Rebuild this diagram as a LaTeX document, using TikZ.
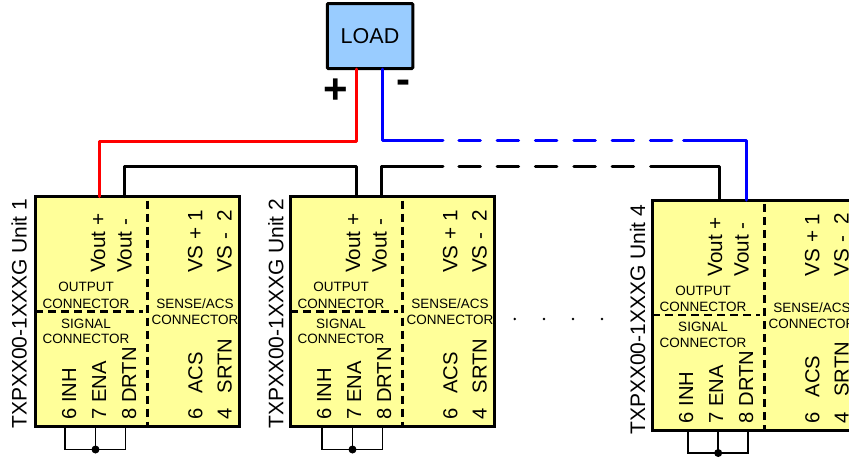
\documentclass[tikz,border=0pt]{standalone}
\usepackage{fontspec}
\setmainfont{Liberation Sans}
\definecolor{boxyellow}{HTML}{FFFF99}
\definecolor{loadblue}{HTML}{99CCFF}
\definecolor{wireblue}{HTML}{0000FF}
\definecolor{wirered}{HTML}{FF0000}
\tikzset{
  unitbox/.style={draw=black,line width=3pt,fill=boxyellow,minimum width=204.5pt,minimum height=230pt,anchor=north west,inner sep=0pt,outer sep=0pt},
  loadbox/.style={draw=black,line width=3pt,fill=loadblue,rounded corners=1pt,minimum width=85.5pt,minimum height=65pt,inner sep=0pt,font=\fontsize{21.5}{21.5}\selectfont},
  vlabel/.style={rotate=90,inner sep=0pt,anchor=base west},
  pinbase/.style={vlabel,font=\fontsize{20.7}{20.7}\selectfont},
  pinlow/.style={vlabel,font=\fontsize{20.2}{20.2}\selectfont},
  titlelabel/.style={rotate=90,inner sep=0pt,anchor=base west,font=\fontsize{21}{21}\selectfont},
  smalllabel/.style={inner sep=0pt,font=\fontsize{13.5}{13.5}\selectfont},
  wire/.style={line width=3pt,line join=round,line cap=round},
  wiredash/.style={wire,dash pattern=on 21.5pt off 16.83pt},
  inner dash/.style={line width=2.6pt,dash pattern=on 8pt off 5pt},
  jumper/.style={line width=1.6pt,line join=miter},
  sym/.style={inner sep=0pt,font=\fontsize{42}{42}\selectfont\bfseries}
}
% #1 name, #2 x, #3 y, #4 title baseline offset, #5 title start offset, #6 number,
% #7 plus terminal offset, #8 minus terminal offset, #9 first jumper offset
\newcommand{\powerunit}[9]{%
  \begin{scope}[shift={(#2,#3)}]
    \node[unitbox] (#1) at (0,0) {};
    \coordinate (#1p) at (#7,0);
    \coordinate (#1m) at (#8,0);
    \coordinate (#1a) at (#9,230);
    \coordinate (#1b) at ([xshift=30.5pt]#1a);
    \coordinate (#1c) at ([xshift=60.5pt]#1a);
    \coordinate (#1d) at ([yshift=-23pt]#1b);
    \node[titlelabel] (#1title) at (#4,#5) {TXPXX00-1XXXG Unit #6};
    \node[pinbase] (#1vp) at (70,76.5) {Vout +};
    \node[pinbase] (#1vm) at (96.5,76.5) {Vout -};
    \node[pinbase] (#1vs1) at (167.3,76.5) {VS + 1};
    \node[pinbase] (#1vs2) at (196.7,76.5) {VS -\ \ 2};
    \node[pinlow] (#1inh) at (41,223.5) {6 INH};
    \node[pinlow] (#1ena) at (71,223.5) {7 ENA};
    \node[pinlow] (#1drtn) at (101,223.5) {8 DRTN};
    \node[pinlow] (#1acs) at (167.3,223.5) {6\hspace{15pt}ACS};
    \node[pinlow] (#1srtn) at (196.7,223.5) {4\hspace{15.5pt}SRTN};
    \node[smalllabel] (#1o1) at (51,90.5) {OUTPUT};
    \node[smalllabel] (#1o2) at (51,107) {CONNECTOR};
    \node[smalllabel] (#1s1) at (51,127) {SIGNAL};
    \node[smalllabel] (#1s2) at (51,142.5) {CONNECTOR};
    \node[smalllabel] (#1a1) at (160,107.5) {SENSE/ACS};
    \node[smalllabel] (#1a2) at (160,123.5) {CONNECTOR};
    \draw[inner dash] (112.7,4) -- (112.7,230);
    \draw[inner dash] (0,115) -- (108,115);
  \end{scope}
  \draw[jumper] (#1a) -- (#1a|-#1d) -- (#1c|-#1d) -- (#1c);
  \draw[jumper] (#1b) -- (#1d);
  \fill (#1d) circle (4pt);
}
\begin{document}
\begin{tikzpicture}[x=1pt,y=-1pt]
  \useasboundingbox (0,0) rectangle (849,459);
  \clip (0,0) rectangle (849,459);
  \fill[white] (0,0) rectangle (849,459);

  \node[loadbox] (load) at (370,36) {LOAD};
  \coordinate (lp) at (356,69);
  \coordinate (lm) at (382,69);
  \coordinate (ry) at (0,141);
  \coordinate (by) at (0,140);
  \coordinate (ky) at (0,166);

  \node[sym] (plus) at (336,91) {+};
  \node[sym] (minus) at (403,87) {-};

  \powerunit{ua}{35}{196.5}{-8.3}{232.5}{1}{64}{89}{30}
  \powerunit{ub}{290}{196.5}{-6.7}{232.5}{2}{66}{91}{32}
  \powerunit{ud}{652}{200}{-7}{235}{4}{67}{94.5}{35.7}

  % positive rail
  \draw[wire,wirered] (lp) -- (lp|-ry) -- (uap|-ry) -- (uap);
  % negative rail to unit 1/2 common
  \draw[wire] (uam) -- (uam|-ky) -- (ubp|-ky) -- (ubp);

  % blue rail with break
  \coordinate (bs1) at (443,140); \coordinate (bd1) at (458.8,140);
  \coordinate (bd2) at (672,140); \coordinate (bs2) at (683.5,140);
  \draw[wire,wireblue] (lm) -- (lm|-by) -- (bs1);
  \draw[wiredash,wireblue] (bd1) -- (bd2);
  \draw[wire,wireblue] (bs2) -- (udm|-by) -- (udm);

  % black rail with break
  \coordinate (ks1) at (443,166); \coordinate (kd1) at (458.8,166);
  \coordinate (kd2) at (635,166); \coordinate (ks2) at (650.5,166);
  \draw[wire] (ubm) -- (ubm|-ky) -- (ks1);
  \draw[wiredash] (kd1) -- (kd2);
  \draw[wire] (ks2) -- (udp|-ky) -- (udp);

  % continuation dots
  \foreach \x/\n in {514.7/a,544/b,573/c,602/d}
    \fill (\x,319) circle (1.4pt);
\end{tikzpicture}
\end{document}
